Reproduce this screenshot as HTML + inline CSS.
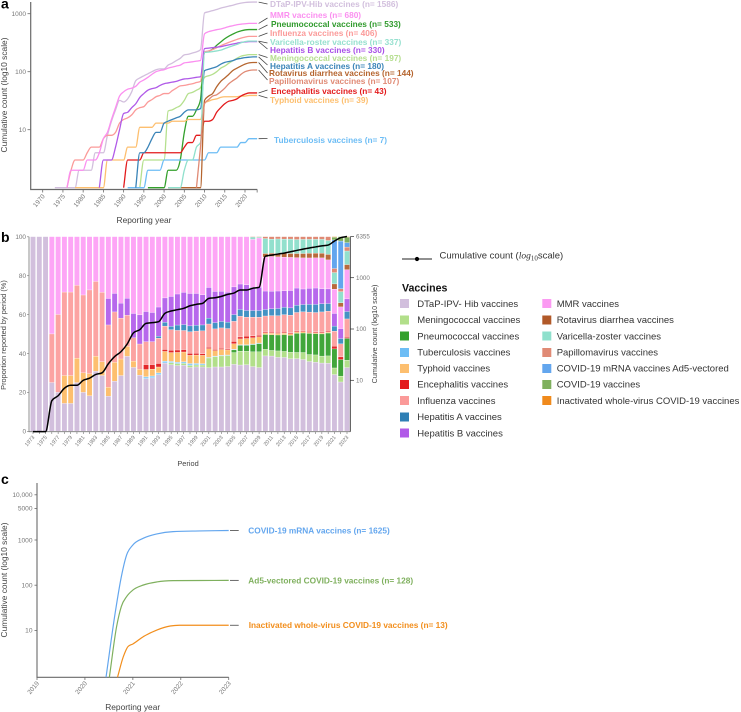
<!DOCTYPE html>
<html>
<head>
<meta charset="utf-8">
<style>
html,body{margin:0;padding:0;background:#fff;}
svg{display:block;font-family:"Liberation Sans",sans-serif;}
.tick{font-size:6.5px;fill:#777;}
.title{font-size:8.4px;fill:#444;}
.lab{font-size:8.3px;font-weight:bold;}
.leg{font-size:9.5px;fill:#333;}
.panel{font-size:14px;font-weight:bold;fill:#000;}
</style>
</head>
<body>
<svg id="fig" xmlns="http://www.w3.org/2000/svg" width="741" height="712" viewBox="0 0 741 712">
<rect width="741" height="712" fill="#fff"/>

<text class="panel" x="1" y="8.5">a</text>
<text class="panel" x="1" y="242">b</text>
<text class="panel" x="1" y="484">c</text>

<g id="panelA"></g>
<text class="title" transform="translate(7,95) rotate(-90)" text-anchor="middle">Cumulative count (log10 scale)</text>
<text class="title" x="144" y="223" text-anchor="middle">Reporting year</text>

<g id="labelsA" dominant-baseline="central">
<text class="lab" x="270" y="4" fill="#d2bfdd">DTaP-IPV-Hib vaccines (n= 1586)</text>
<text class="lab" x="270" y="15" fill="#fb8ff0">MMR vaccines (n= 680)</text>
<text class="lab" x="271" y="24" fill="#2f9a2c">Pneumococcal vaccines (n= 533)</text>
<text class="lab" x="270" y="33" fill="#fb9a99">Influenza vaccines (n= 406)</text>
<text class="lab" x="270" y="42" fill="#96e0cf">Varicella-roster vaccines (n= 337)</text>
<text class="lab" x="270" y="50" fill="#a84fe8">Hepatitis B vaccines (n= 330)</text>
<text class="lab" x="270" y="58" fill="#b5de8f">Meningococcal vaccines (n= 197)</text>
<text class="lab" x="270" y="66" fill="#3a84b8">Hepatitis A vaccines (n= 180)</text>
<text class="lab" x="269" y="73" fill="#b5652f">Rotavirus diarrhea vaccines (n= 144)</text>
<text class="lab" x="269" y="81" fill="#e08a75">Papillomavirus vaccines (n= 107)</text>
<text class="lab" x="271" y="91" fill="#e31a1c">Encephalitis vaccines (n= 43)</text>
<text class="lab" x="270" y="100" fill="#fdbf6f">Typhoid vaccines (n= 39)</text>
<text class="lab" x="274" y="140" fill="#6dbdf5">Tuberculosis vaccines (n= 7)</text>
</g>

<g id="panelB"></g>
<text class="title" style="font-size:7.4px" transform="translate(6,335) rotate(-90)" text-anchor="middle">Proportion reported by period (%)</text>
<text class="title" style="font-size:7.2px" transform="translate(377,334) rotate(-90)" text-anchor="middle">Cumulative count (log10 scale)</text>
<text class="title" style="font-size:7.4px" x="188" y="466" text-anchor="middle">Period</text>

<g>
<line x1="402" y1="259" x2="432" y2="259" stroke="#222" stroke-width="1"/>
<circle cx="417" cy="259" r="2.1" fill="#000"/>
<text class="leg" x="439.5" y="258.5">Cumulative count (<tspan font-family="'Liberation Serif',serif" font-style="italic">log</tspan><tspan font-family="'Liberation Serif',serif" font-size="7" dy="2">10</tspan><tspan dy="-2">scale)</tspan></text>
</g>

<g>
<text x="402" y="291.5" font-size="10.6" font-weight="bold" fill="#111">Vaccines</text>
<rect x="400" y="299" width="9" height="9" fill="#d2bfdd"/><text class="leg" x="417.3" y="306.8">DTaP-IPV- Hib vaccines</text>
<rect x="400" y="315.5" width="9" height="9" fill="#b2df8a"/><text class="leg" x="417.3" y="323.2">Meningococcal vaccines</text>
<rect x="400" y="331.5" width="9" height="9" fill="#33a02c"/><text class="leg" x="417.3" y="339.3">Pneumococcal vaccines</text>
<rect x="400" y="348" width="9" height="9" fill="#6dbdf5"/><text class="leg" x="417.3" y="355.6">Tuberculosis vaccines</text>
<rect x="400" y="364" width="9" height="9" fill="#fdbf6f"/><text class="leg" x="417.3" y="371.6">Typhoid vaccines</text>
<rect x="400" y="380" width="9" height="9" fill="#e31a1c"/><text class="leg" x="417.3" y="387.7">Encephalitis vaccines</text>
<rect x="400" y="396" width="9" height="9" fill="#fb9a99"/><text class="leg" x="417.3" y="404">Influenza vaccines</text>
<rect x="400" y="412.5" width="9" height="9" fill="#2f7fb5"/><text class="leg" x="417.3" y="420.1">Hepatitis A vaccines</text>
<rect x="400" y="428.5" width="9" height="9" fill="#b15ae8"/><text class="leg" x="417.3" y="436.3">Hepatitis B vaccines</text>
<rect x="542.3" y="299" width="9" height="9" fill="#fb9af2"/><text class="leg" x="556.7" y="306.8">MMR vaccines</text>
<rect x="542.3" y="315.5" width="9" height="9" fill="#b15928"/><text class="leg" x="556.7" y="323.2">Rotavirus diarrhea vaccines</text>
<rect x="542.3" y="331.5" width="9" height="9" fill="#8fe0cc"/><text class="leg" x="556.7" y="339.3">Varicella-zoster vaccines</text>
<rect x="542.3" y="348" width="9" height="9" fill="#e08a75"/><text class="leg" x="556.7" y="355.6">Papillomavirus vaccines</text>
<rect x="542.3" y="364" width="9" height="9" fill="#63a6ee"/><text class="leg" x="556.7" y="371.6">COVID-19 mRNA vaccines Ad5-vectored</text>
<rect x="542.3" y="380" width="9" height="9" fill="#7fb05e"/><text class="leg" x="556.7" y="387.7">COVID-19 vaccines</text>
<rect x="542.3" y="396" width="9" height="9" fill="#f08a1c"/><text class="leg" x="556.7" y="404">Inactivated whole-virus COVID-19 vaccines</text>
</g>

<g id="panelC"></g>
<text class="title" transform="translate(7,580) rotate(-90)" text-anchor="middle">Cumulative count (log10 scale)</text>
<text class="title" x="132.7" y="710" text-anchor="middle">Reporting year</text>
<g dominant-baseline="central">
<text class="lab" x="248.3" y="530.7" fill="#63a6ee">COVID-19 mRNA vaccines (n= 1625)</text>
<text class="lab" x="248.3" y="580.3" fill="#7fb05e">Ad5-vectored COVID-19 vaccines (n= 128)</text>
<text class="lab" x="248.7" y="625" fill="#f28e1c">Inactivated whole-virus COVID-19 vaccines (n= 13)</text>
</g>
</svg>

<script>
// ---------- Panel a data: first reporting year + cumulative count per year ----------
const dtapStart = 1973;
const dtapCounts = [1,1,1,1,1,1,2,2,2,2,4,4,4,8,14,22,32,30,34,45,70,78,85,92,100,108,112,112,130,140,155,170,195,200,210,220,240,1030,1080,1130,1180,1250,1300,1350,1400,1470,1520,1560,1580,1586,1586];
const menStart = 1994;
const menCounts = [1,3,3,3,3,3,3,21,22,24,26,32,42,44,48,53,80,85,90,100,115,125,140,155,170,185,192,197,197,197];
const pneuStart = 1996;
const pneuCounts = [1,1,1,1,1,2,2,2,3,9,17,17,22,33,215,225,245,285,325,370,410,445,480,505,525,533,533,533];
const tbStart = 1991;
const tbCounts = [1,1,1,1,1,2,2,2,2,3,3,3,3,3,3,3,3,3,3,3,4,4,4,5,5,5,5,5,6,6,7,7,7];
const typhStart = 1978;
const typhCounts = [1,1,1,1,1,1,1,1,3,3,3,3,3,5,5,5,11,11,11,11,13,13,13,13,14,14,14,14,15,15,15,15,29,31,33,34,36,37,37,37,37,38,38,39,39,39];
const encStart = 1990;
const encCounts = [1,3,3,3,3,4,4,4,4,4,4,4,4,4,4,5,6,6,8,8,14,14,15,20,24,28,31,32,34,38,41,43,43,43];
const fluStart = 1976;
const fluCounts = [1,2,3,3,3,4,5,5,5,7,8,8,9,13,15,16,18,22,24,25,30,33,37,39,42,42,47,52,57,58,60,62,65,68,220,228,240,260,280,300,320,340,360,380,395,406,406,406];
const hepAStart = 1993;
const hepACounts = [1,4,4,5,7,9,9,13,14,15,16,17,20,22,22,22,23,104,110,116,122,135,145,150,155,165,170,175,178,180,180];
const hepBStart = 1984;
const hepBCounts = [1,3,3,3,5,10,19,20,24,28,36,42,48,51,53,58,62,64,66,68,72,75,76,78,80,82,250,255,260,265,270,280,290,300,310,320,325,330,330,330];
const mmrStart = 1976;
const mmrCounts = [1,2,2,2,2,3,3,3,4,7,9,15,24,38,45,50,52,56,66,72,80,90,100,105,108,115,120,125,130,142,145,148,152,156,450,490,510,530,545,570,600,620,645,660,670,680,680,680];
const rotaStart = 2001;
const rotaCounts = [1,1,1,1,1,1,1,1,1,32,38,42,55,68,78,90,105,115,125,135,142,144,144];
const variStart = 2001;
const variCounts = [1,1,1,1,2,3,3,5,6,215,218,222,228,235,250,265,280,295,315,330,337,337,337];
const papStart = 2008;
const papCounts = [1,5,28,33,38,40,45,52,62,70,78,90,100,105,107,107];

const yearTicksA = [1970,1975,1980,1985,1990,1995,2000,2005,2010,2015,2020];
const countTicksA = [1000,100,10];

// ---------- Panel b data: share (%) per period 1973..2023 ----------
const periodStart = 1973;
const periodEnd = 2023;
const dtapShare = [100,100,100,25,20,14.3,14.3,25,20,18.2,30.8,28.6,18,25.7,28.6,38.5,32.8,28.8,27,27.4,29,35,34,33.4,33.7,32.5,33,33,32.7,33,33,33.3,34.2,33.9,33.9,33.2,32.7,38.7,38.5,38,38,37.7,37.2,36.8,36,35.8,35.3,35.1,29.1,25.3,32.7];
const menShare = [0,0,0,0,0,0,0,0,0,0,0,0,0,0,0,0,0,0,0,0,0,0,1,1,1,1,1,1,5,5.3,5.7,5.6,6,7.1,6.9,7.6,8.1,3.4,2.9,3.3,3.1,3.4,3.2,3.6,3.6,3.8,3.6,3.8,3.4,3,3.8];
const pneuShare = [0,0,0,0,0,0,0,0,0,0,0,0,0,0,0,0,0,0,0,0,0,0,0,0,0,0,0,0,0,0,0,0,1.4,3,3,3.7,4.2,7.6,8,8.2,8.6,8.8,9.8,10,10.9,11,11.5,11.8,9.8,8.5,11.2];
const tbShare = [0,0,0,0,0,0,0,0,0,0,0,0,0,0,0,0,0,0,1,1,1,1,.7,.7,.8,1,.8,.7,.3,.3,.3,.3,.3,.3,.3,.3,.3,0,0,0,0,0,0,0,0,0,0,0,0,0,0];
const typhShare = [0,0,0,0,0,14.3,14.3,12.5,10,11.4,7.7,7.1,4.6,9.7,8.5,5.1,3.2,3,3.7,3.5,3,5,4.5,5,5,4.2,4.3,4.3,4.5,2.8,3,2.6,2.8,3,3.2,3.2,3.2,.8,.8,.8,.8,.8,.7,.7,.5,.5,.5,.5,0,0,0];
const encShare = [0,0,0,0,0,0,0,0,0,0,0,0,0,0,0,0,0,0,2.5,2.3,1.8,1,1.2,1.2,1.2,1,.9,.8,.7,.6,.6,.5,1.2,1,1.2,1,.8,.5,.5,.5,.5,.5,.5,.5,.5,.5,.5,.5,1.4,1.4,.6];
const fluShare = [0,0,0,25,40,42.9,42.9,37.5,40,43,38.4,35.7,32,25.9,21,16,12,13,11.8,11.8,13,12,10.5,10,9.8,11,11.4,11.8,12,10.6,10.5,10.5,10.3,10.6,9.7,9.6,9.3,8.2,8.5,8.6,9,9.2,9.5,9.7,10,10,10.4,10.3,7.7,6.7,9.4];
const hepAShare = [0,0,0,0,0,0,0,0,0,0,0,0,0,0,0,0,0,0,0,0,1,2,1.7,2.7,3,3,3,3,3,3.2,3.3,3.3,3.4,3.5,3.4,3.4,3.4,3.3,3.5,3.7,3.8,3.8,3.7,3.7,4,4.2,4.2,3.9,2.6,2.7,3.8];
const hepBShare = [0,0,0,0,0,0,0,0,0,0,0,0,13.6,9.5,7.7,8.7,12.5,15,15.5,15,15,12.5,15.3,15.8,16.5,16.5,16.3,15.5,15.8,16,15.5,15.4,14.2,13,13.1,12,12,9.5,9,9,8.5,9,8.8,8,8.3,8.5,7.8,7.6,6.5,5.1,6.5];
const mmrShare = [0,0,0,50,40,28.5,28.5,25,30,27.4,23,28.6,31.8,29.2,34.2,31.7,39.5,40.2,38.5,39,36.2,31.5,30.6,29.2,28.5,29,29.2,29.9,26.2,28.2,28.1,28.6,25.7,24.3,24.6,24.6,25.3,17.5,17.8,17.6,17.3,17.3,15.6,16,15.7,15.7,16,15,12.5,11.2,15];
const rotaShare = [0,0,0,0,0,0,0,0,0,0,0,0,0,0,0,0,0,0,0,0,0,0,0,0,0,0,0,0,0,0,0,0,0,0,0,0,0,1.8,1.7,1.7,2,2,2.1,2.2,2.4,2.4,2.4,2.8,2.7,2.1,2.6];
const variShare = [0,0,0,0,0,0,0,0,0,0,0,0,0,0,0,0,0,0,0,0,0,0,0,0,0,0,0,0,0,0,0,0,0,0,0,1.2,.5,7.7,7.2,7.5,7.3,7.5,7.2,7.3,7.2,7.2,7.2,7.2,5.8,5.7,7];
const papShare = [0,0,0,0,0,0,0,0,0,0,0,0,0,0,0,0,0,0,0,0,0,0,0,0,0,0,0,0,0,0,0,0,0,0,0,.2,.2,1,1.3,1.2,1.3,1.3,1.5,1.4,1.4,1.4,1.4,2,2.1,1.5,2];
const mrnaShare = [0,0,0,0,0,0,0,0,0,0,0,0,0,0,0,0,0,0,0,0,0,0,0,0,0,0,0,0,0,0,0,0,0,0,0,0,0,0,0,0,0,0,0,0,0,0,0,0,14.7,24.5,2.3];
const ad5Share = [0,0,0,0,0,0,0,0,0,0,0,0,0,0,0,0,0,0,0,0,0,0,0,0,0,0,0,0,0,0,0,0,0,0,0,0,0,0,0,0,0,0,0,0,0,0,0,0,1.4,2.3,2.8];
const inactShare = [0,0,0,0,0,0,0,0,0,0,0,0,0,0,0,0,0,0,0,0,0,0,0,0,0,0,0,0,0,0,0,0,0,0,0,0,0,0,0,0,0,0,0,0,0,0,0,0,.3,0,.3];
const cumulativeTotal = [1,1,1,4,5,7,8,8,10,11,13,14,21,29,36,51,84,97,129,133,139,202,224,238,253,284,302,316,396,407,433,473,501,575,575,624,650,2630,2755,2890,3020,3210,3400,3610,3800,3980,4170,4325,5180,6025,6355];
const shareTicks = [0,20,40,60,80,100];
const totalTicks = [10,100,1000,6355];

// ---------- Panel c data ----------
const mrnaYears = [2020.44,2020.63,2020.76,2020.87,2021,2021.22,2021.5,2021.84,2022.4,2023];
const mrnaCounts = [0.92,24,155,467,776,1096,1362,1535,1585,1625];
const ad5Years = [2020.51,2020.66,2020.76,2020.87,2021,2021.22,2021.5,2021.84,2022.4,2023];
const ad5Counts = [0.92,12,34,56,78,101,118,126,127,128];
const inactYears = [2020.68,2020.8,2020.9,2021,2021.22,2021.5,2021.78,2021.97,2023];
const inactCounts = [0.92,2.6,4.4,5,7.3,10.2,12.5,13,13];
const yearTicksC = [2019,2020,2021,2022,2023];
const countTicksC = [10000,5000,1000,100,10];

// ---------- helpers ----------
const NS = 'http://www.w3.org/2000/svg';
function mk(tag, attrs, parent){
  const e = document.createElementNS(NS, tag);
  for (const k in attrs) e.setAttribute(k, attrs[k]);
  parent.appendChild(e);
  return e;
}
function curvePath(pts){
  const n = pts.length;
  if (n < 2) return '';
  const h = [], s = [], t = [];
  for (let i = 0; i < n-1; i++){
    h[i] = pts[i+1][0]-pts[i][0];
    s[i] = (pts[i+1][1]-pts[i][1])/h[i];
  }
  t[0] = s[0]; t[n-1] = s[n-2];
  for (let i = 1; i < n-1; i++){
    const p = (s[i-1]*h[i]+s[i]*h[i-1])/(h[i-1]+h[i]);
    t[i] = (Math.sign(s[i-1])+Math.sign(s[i]))*Math.min(Math.abs(s[i-1]),Math.abs(s[i]),0.5*Math.abs(p));
  }
  let d = 'M'+pts[0][0].toFixed(2)+','+pts[0][1].toFixed(2);
  for (let i = 0; i < n-1; i++){
    d += 'C'+(pts[i][0]+h[i]/3).toFixed(2)+','+(pts[i][1]+h[i]/3*t[i]).toFixed(2)+' '+
         (pts[i+1][0]-h[i]/3).toFixed(2)+','+(pts[i+1][1]-h[i]/3*t[i+1]).toFixed(2)+' '+
         pts[i+1][0].toFixed(2)+','+pts[i+1][1].toFixed(2);
  }
  return d;
}
function fmt(v){ return v >= 10000 ? String(v).replace(/(\d)(?=(\d{3})$)/,'$1,') : String(v); }

// ---------- Panel a ----------
const gA = document.getElementById('panelA');
const xA = y => 42.7 + 4.046*(y-1970);
const yA = v => 187.7 - 58*Math.log10(v);
const axisAColor = '#6a6a6a';
const axA = mk('path',{d:'M30.7,2V189.5H257.3',fill:'none',stroke:axisAColor,'stroke-width':1.2},gA);


yearTicksA.concat([2023]).forEach(yr=>{
  const tk = mk('line',{x1:xA(yr),x2:xA(yr),y1:189.5,y2:192.5,stroke:axisAColor,'stroke-width':.8},gA);
  
  
});
yearTicksA.forEach(yr=>{
  const tx = mk('text',{class:'tick','text-anchor':'end',transform:'translate('+(xA(yr)+2.5)+',196.5) rotate(-50)'},gA);
  tx.textContent = yr;
  
  
});
countTicksA.forEach(v=>{
  const tk = mk('line',{x1:27.5,x2:30.7,y1:yA(v),y2:yA(v),stroke:axisAColor,'stroke-width':.8},gA);
  
  
  const tx = mk('text',{class:'tick','text-anchor':'end',x:26,y:yA(v)+2.4},gA);
  tx.textContent = v;
  
  
});
const seriesA = [
  {id:'dtap',color:'#d2bfdd',start:dtapStart,values:dtapCounts,leaderTo:4},
  {id:'meningococcal',color:'#b5e08e',start:menStart,values:menCounts,leaderTo:57.5},
  {id:'pneumococcal',color:'#33a02c',start:pneuStart,values:pneuCounts,leaderTo:25},
  {id:'tuberculosis',color:'#6dbdf5',start:tbStart,values:tbCounts,leaderTo:138.5},
  {id:'typhoid',color:'#fdbf6f',start:typhStart,values:typhCounts,leaderTo:98},
  {id:'encephalitis',color:'#e31a1c',start:encStart,values:encCounts,leaderTo:90},
  {id:'influenza',color:'#fb9a99',start:fluStart,values:fluCounts,leaderTo:33},
  {id:'hepatitis-a',color:'#3a84b8',start:hepAStart,values:hepACounts,leaderTo:65},
  {id:'hepatitis-b',color:'#b05ae8',start:hepBStart,values:hepBCounts,leaderTo:49},
  {id:'mmr',color:'#fb8ff0',start:mmrStart,values:mmrCounts,leaderTo:18},
  {id:'rotavirus',color:'#b5652f',start:rotaStart,values:rotaCounts,leaderTo:73},
  {id:'varicella',color:'#8fe0cc',start:variStart,values:variCounts,leaderTo:43},
  {id:'papillomavirus',color:'#e08a75',start:papStart,values:papCounts,leaderTo:80}
];
seriesA.forEach(s=>{
  const pts = s.values.map((v,i)=>[xA(s.start+i),yA(v)]).filter(p=>p[0]<=xA(2023)+.01);
  const ln = mk('path',{d:curvePath(pts),fill:'none',stroke:s.color,'stroke-width':1.3,'stroke-linejoin':'round'},gA);
  
  
  const last = pts[pts.length-1];
  const ld = mk('line',{x1:last[0]+1.5,y1:last[1],x2:267.5,y2:s.leaderTo,stroke:'#444','stroke-width':.8},gA);
  
  
});

// ---------- Panel b ----------
const gB = document.getElementById('panelB');
const xB = y => 33 + 6.28*(y-periodStart);
const yB = p => 431.4 - 1.946*p;
const yT = v => 431.6 - 51.3*Math.log10(v);
const stackB = [
  {id:'dtap',color:'#d2bfdd',values:dtapShare},
  {id:'meningococcal',color:'#b2df8a',values:menShare},
  {id:'pneumococcal',color:'#41a63a',values:pneuShare},
  {id:'tuberculosis',color:'#8fd0f7',values:tbShare},
  {id:'typhoid',color:'#fdbf6f',values:typhShare},
  {id:'encephalitis',color:'#e3282a',values:encShare},
  {id:'influenza',color:'#fca3a2',values:fluShare},
  {id:'hepatitis-a',color:'#4492c4',values:hepAShare},
  {id:'hepatitis-b',color:'#b768ec',values:hepBShare},
  {id:'mmr',color:'#fda5f6',values:mmrShare},
  {id:'rotavirus',color:'#b86a3c',values:rotaShare},
  {id:'varicella',color:'#92e0cd',values:variShare},
  {id:'papillomavirus',color:'#e08a75',values:papShare},
  {id:'covid-mrna',color:'#63a6ee',values:mrnaShare},
  {id:'covid-ad5',color:'#7fb05e',values:ad5Share},
  {id:'covid-inactivated',color:'#f08a1c',values:inactShare}
];
for (let yr = periodStart; yr <= periodEnd; yr++){
  const i = yr-periodStart;
  const total = stackB.reduce((sum,s)=>sum+s.values[i],0);
  let base = 0;
  stackB.forEach(s=>{
    const v = s.values[i]/total*100;
    if (v > 0){
      const top = yB(base+v), bot = yB(base);
      const r = mk('rect',{x:xB(yr)-2.45,y:top,width:4.9,height:Math.max(bot-top-.35,.3),fill:s.color},gB);
      
      
    }
    base += v;
  });
  const tk = mk('line',{x1:xB(yr),x2:xB(yr),y1:431.8,y2:434,stroke:'#555','stroke-width':.5},gB);
  
  
  if ((yr-periodStart)%2===0){
    const tx = mk('text',{class:'tick','text-anchor':'end',style:'font-size:5.4px',transform:'translate('+(xB(yr)+1.8)+',437.5) rotate(-50)'},gB);
    tx.textContent = yr;
    
    
  }
}
const axB = mk('path',{d:'M29,236.7V431.7H350.3',fill:'none',stroke:'#777','stroke-width':.8},gB);


shareTicks.forEach(p=>{
  const tk = mk('line',{x1:27,x2:29,y1:yB(p),y2:yB(p),stroke:'#777','stroke-width':.6},gB);
  
  
  const tx = mk('text',{class:'tick','text-anchor':'end',style:'font-size:6.4px',x:26,y:yB(p)+2.2},gB);
  tx.textContent = p;
  
  
});
const axR = mk('line',{x1:350.3,x2:350.3,y1:236.7,y2:431.7,stroke:'#333','stroke-width':.9},gB);


totalTicks.forEach(v=>{
  const tk = mk('line',{x1:350.3,x2:354,y1:yT(v),y2:yT(v),stroke:'#333','stroke-width':.7},gB);
  
  
  const tx = mk('text',{class:'tick',style:'font-size:6.2px',x:356,y:yT(v)+2.2},gB);
  tx.textContent = v;
  
  
});
const totalLine = mk('path',{d:curvePath(cumulativeTotal.map((v,i)=>[xB(periodStart+i),yT(v)])),fill:'none',stroke:'#000','stroke-width':1.5,'stroke-linejoin':'round'},gB);



// ---------- Panel c ----------
const gC = document.getElementById('panelC');
const xC = y => 37 + 47.93*(y-2019);
const yC = v => 675.6 - 45.2*Math.log10(v);
const axC = mk('path',{d:'M37,483V677.3H228.7',fill:'none',stroke:axisAColor,'stroke-width':1.1},gC);


yearTicksC.forEach(yr=>{
  const tk = mk('line',{x1:xC(yr),x2:xC(yr),y1:677.3,y2:680,stroke:axisAColor,'stroke-width':.8},gC);
  
  
  const tx = mk('text',{class:'tick','text-anchor':'end',transform:'translate('+(xC(yr)+2.5)+',683.5) rotate(-50)'},gC);
  tx.textContent = yr;
  
  
});
countTicksC.forEach(v=>{
  const tk = mk('line',{x1:34.5,x2:37,y1:yC(v),y2:yC(v),stroke:axisAColor,'stroke-width':.8},gC);
  
  
  const tx = mk('text',{class:'tick','text-anchor':'end',style:'font-size:6.6px',x:32.5,y:yC(v)+2.3},gC);
  tx.textContent = fmt(v);
  
  
});
const seriesC = [
  {id:'covid-mrna',color:'#63a6ee',years:mrnaYears,values:mrnaCounts},
  {id:'covid-ad5',color:'#7fb05e',years:ad5Years,values:ad5Counts},
  {id:'covid-inactivated',color:'#f28e1c',years:inactYears,values:inactCounts}
];
seriesC.forEach(s=>{
  const pts = s.values.map((v,i)=>[xC(s.years[i]),yC(v)]);
  const ln = mk('path',{d:curvePath(pts),fill:'none',stroke:s.color,'stroke-width':1.2},gC);
  
  
  const last = pts[pts.length-1];
  const ld = mk('line',{x1:230,x2:238.7,y1:last[1],y2:last[1],stroke:'#444','stroke-width':.8},gC);
  
  
});
</script>
</body>
</html>
